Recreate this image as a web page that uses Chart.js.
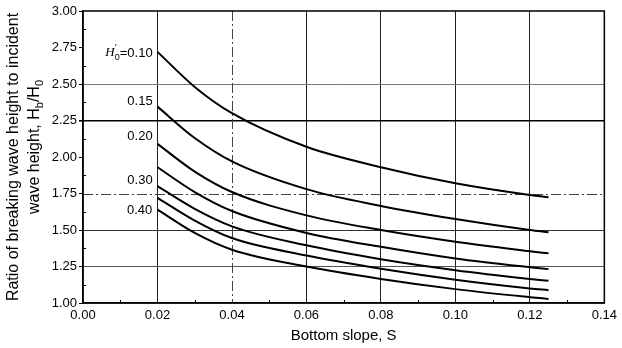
<!DOCTYPE html>
<html><head><meta charset="utf-8">
<script src="https://cdn.jsdelivr.net/npm/chart.js@4.4.1/dist/chart.umd.min.js"></script>
<style>html,body{margin:0;padding:0;background:#fff}</style>
</head><body>
<canvas id="c" width="622" height="348" style="width:622px;height:348px;display:block"></canvas>
<script>
// ---- data ----
const slopes = [0.02, 0.03, 0.04, 0.06, 0.08, 0.10, 0.12, 0.125];
const h010 = [2.72, 2.48, 2.30, 2.07, 1.93, 1.82, 1.74, 1.725];
const h015 = [2.345, 2.13, 1.97, 1.78, 1.665, 1.575, 1.50, 1.485];
const h020 = [2.09, 1.90, 1.76, 1.60, 1.50, 1.42, 1.355, 1.34];
const h025 = [1.93, 1.76, 1.63, 1.48, 1.385, 1.305, 1.245, 1.232];
const h030 = [1.80, 1.645, 1.525, 1.395, 1.30, 1.225, 1.165, 1.152];
const h035 = [1.72, 1.565, 1.445, 1.325, 1.235, 1.16, 1.10, 1.088];
const h040 = [1.64, 1.48, 1.365, 1.25, 1.165, 1.095, 1.04, 1.028];
const seriesNames = ["0.10", "0.15", "0.20", "0.25", "0.30", "0.35", "0.40"];
const seriesValues = [h010, h015, h020, h025, h030, h035, h040];
// curve labels: text, anchor x (right edge), anchor y (centre)
const labelTexts = ["0.10", "0.15", "0.20", "0.30", "0.40"];
const labelX = [0.0187, 0.0187, 0.0187, 0.0187, 0.0186];
const labelY = [2.712, 2.379, 2.144, 1.838, 1.637];
const xTickStep = 0.02, yTickStep = 0.25;
const xTitle = "Bottom slope, S";
const yTitleLine1 = "Ratio of breaking wave height to incident";
const yTitleLine2 = ["wave height, H", "b", "/H", "0"];

const FONT = '"Liberation Sans", Arial, sans-serif';
const near = (a, b) => Math.abs(a - b) < 1e-6;

const datasets = seriesValues.map((vals, i) => ({
  label: seriesNames[i],
  data: slopes.map((s, j) => ({x: s, y: vals[j]})),
  borderColor: '#000',
  borderWidth: 2,
  pointRadius: 0,
  fill: false,
  cubicInterpolationMode: 'monotone'
}));

const decor = {
  id: 'decor',
  beforeDatasetsDraw(chart) {
    const {ctx, chartArea: a, scales: {x, y}} = chart;
    ctx.save();
    ctx.strokeStyle = '#444';
    ctx.lineWidth = 1;
    ctx.setLineDash([10, 3, 2, 3]);
    const py = Math.round(y.getPixelForValue(1.75)) + 0.5;
    ctx.beginPath(); ctx.moveTo(a.left, py); ctx.lineTo(a.right, py); ctx.stroke();
    const px = Math.round(x.getPixelForValue(0.04)) + 0.5;
    ctx.beginPath(); ctx.moveTo(px, a.top); ctx.lineTo(px, a.bottom); ctx.stroke();
    ctx.setLineDash([]);
    ctx.strokeStyle = '#000';
    for (let v = 0.01; v < 0.14; v += 0.02) {
      const p = Math.round(x.getPixelForValue(v)) + 0.5;
      ctx.beginPath(); ctx.moveTo(p, a.bottom); ctx.lineTo(p, a.bottom - 3); ctx.stroke();
    }
    for (let v = 1.125; v < 3; v += 0.25) {
      const p = Math.round(y.getPixelForValue(v)) + 0.5;
      ctx.beginPath(); ctx.moveTo(a.left, p); ctx.lineTo(a.left + 3, p); ctx.stroke();
    }
    ctx.restore();
  },
  afterDraw(chart) {
    const {ctx, chartArea: a, scales: {x, y}} = chart;
    ctx.save();
    ctx.strokeStyle = '#000';
    ctx.lineWidth = 1.5;
    ctx.strokeRect(a.left, a.top, a.right - a.left, a.bottom - a.top);
    ctx.fillStyle = '#000';
    ctx.textBaseline = 'middle';
    labelTexts.forEach((t, i) => {
      const xr = x.getPixelForValue(labelX[i]);
      const yc = y.getPixelForValue(labelY[i]);
      ctx.font = '13px ' + FONT;
      if (i === 0) {
        const s1 = '=' + t;
        const w1 = ctx.measureText(s1).width;
        ctx.font = 'italic 13px "Liberation Serif", serif';
        const wH = ctx.measureText('H').width;
        ctx.font = '9px ' + FONT;
        const w0 = ctx.measureText('0').width;
        let sx = xr - w1 - w0 - wH;
        ctx.textAlign = 'left';
        ctx.font = 'italic 13px "Liberation Serif", serif';
        ctx.fillText('H', sx, yc);
        ctx.font = '10px "Liberation Serif", serif';
        ctx.fillText('\u2032', sx + wH, yc - 5);
        ctx.font = '9px ' + FONT;
        ctx.fillText('0', sx + wH, yc + 4);
        ctx.font = '13px ' + FONT;
        ctx.fillText(s1, sx + wH + w0, yc);
      } else {
        ctx.textAlign = 'right';
        ctx.fillText(t, xr, yc);
      }
    });
    const cy = (a.top + a.bottom) / 2;
    ctx.save();
    ctx.translate(14, cy);
    ctx.rotate(-Math.PI / 2);
    ctx.textAlign = 'center';
    ctx.font = '16px ' + FONT;
    ctx.fillText(yTitleLine1, 0, 0);
    ctx.restore();
    ctx.save();
    ctx.translate(35, cy);
    ctx.rotate(-Math.PI / 2);
    ctx.textAlign = 'left';
    const big = '16px ' + FONT, small = '11px ' + FONT;
    const parts = yTitleLine2.map((s, i) => ({s, f: i % 2 ? small : big}));
    let tw = 0;
    parts.forEach(p => { ctx.font = p.f; p.w = ctx.measureText(p.s).width; tw += p.w; });
    let sx = -tw / 2 + 10;
    parts.forEach((p, i) => {
      ctx.font = p.f;
      ctx.fillText(p.s, sx, i % 2 ? 5 : 0);
      sx += p.w;
    });
    ctx.restore();
    ctx.restore();
  }
};

new Chart(document.getElementById('c'), {
  type: 'line',
  data: {datasets},
  plugins: [decor],
  options: {
    responsive: false,
    animation: false,
    devicePixelRatio: 1,
    layout: {padding: {left: 0, right: 14, top: 11, bottom: 0}},
    plugins: {legend: {display: false}, tooltip: {enabled: false}},
    scales: {
      x: {
        type: 'linear', min: 0, max: 0.14,
        ticks: {stepSize: xTickStep, callback: v => v.toFixed(2), color: '#000',
                font: {family: FONT, size: 13}, padding: 5, maxRotation: 0, autoSkip: false},
        grid: {
          color: c => (near(c.tick.value, 0) || near(c.tick.value, 0.04) || near(c.tick.value, 0.14)) ? 'rgba(0,0,0,0)' : '#222',
          lineWidth: 1, tickLength: 0, drawTicks: false
        },
        border: {display: true, color: '#000', width: 1.5},
        title: {display: true, text: xTitle, color: '#000', font: {family: FONT, size: 15}, padding: {top: 1, bottom: 3}},
        afterFit: s => { s.height = 45; }
      },
      y: {
        min: 1, max: 3,
        ticks: {stepSize: yTickStep, callback: v => v.toFixed(2), color: '#000',
                font: {family: FONT, size: 13}, padding: 2, autoSkip: false},
        grid: {
          color: c => {
            const v = c.tick.value;
            if (near(v, 2.25)) return '#000';
            if (near(v, 2.5)) return '#777';
            if (near(v, 1.5)) return '#333';
            if (near(v, 1.25)) return '#555';
            return 'rgba(0,0,0,0)';
          },
          lineWidth: c => near(c.tick.value, 2.25) ? 1.6 : 1,
          tickColor: '#000', tickLength: 4
        },
        border: {display: true, color: '#000', width: 1.5},
        afterFit: s => { s.width = 83; }
      }
    }
  }
});
</script>
</body></html>
